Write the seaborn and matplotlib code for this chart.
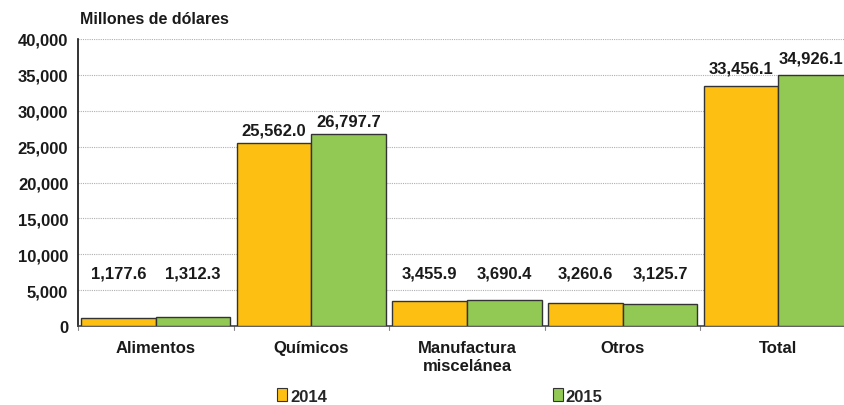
import pandas as pd
import matplotlib
matplotlib.use("Agg")
import matplotlib.pyplot as plt
import seaborn as sns

# Data
categorias = ["Alimentos", "Químicos", "Manufactura\nmiscelánea", "Otros", "Total"]
valores_2014 = [1177.6, 25562.0, 3455.9, 3260.6, 33456.1]
valores_2015 = [1312.3, 26797.7, 3690.4, 3125.7, 34926.1]
anios = ["2014", "2015"]
y_ticks = [0, 5000, 10000, 15000, 20000, 25000, 30000, 35000, 40000]

df = pd.DataFrame({
    "categoria": categorias * 2,
    "anio": [anios[0]] * len(categorias) + [anios[1]] * len(categorias),
    "valor": valores_2014 + valores_2015,
})

sns.set_style("white")
plt.rcParams['font.family'] = ['Liberation Sans', 'DejaVu Sans']
plt.rcParams['font.weight'] = 'bold'

colores = {"2014": "#FDBF11", "2015": "#92C955"}
texto = "#1a1a1a"

fig = plt.figure(figsize=(8.45, 4.06), dpi=100)
ax = fig.add_axes([78 / 845, 79 / 406, 778 / 845, 287 / 406])

sns.barplot(
    data=df, x="categoria", y="valor", hue="anio",
    palette=colores, saturation=1, width=0.96, edgecolor="#333333", linewidth=1,
    ax=ax, legend=False, zorder=3,
)

ax.set_ylim(0, 40000)
ax.set_yticks(y_ticks)
ax.set_yticklabels([f"{t:,}" for t in y_ticks], fontsize=12, fontweight="bold", color=texto)
ax.set_xlim(-0.5, len(categorias) - 0.5)
ax.set_xlabel("")
ax.set_ylabel("")
ax.tick_params(axis="x", length=0, pad=10, labelsize=12, labelcolor=texto)
ax.tick_params(axis="y", length=5, width=1, color="#222222", pad=2)
for lbl in ax.get_xticklabels():
    lbl.set_fontweight("bold")
    lbl.set_linespacing(1.25)

# category separators on the x axis
for b in range(len(categorias) + 1):
    ax.plot([b - 0.5, b - 0.5], [0, -600], color="#888888", lw=0.8, clip_on=False)

ax.yaxis.grid(True, linestyle=(0, (1, 1)), color="#b0b0b0", linewidth=0.8, zorder=0)
ax.xaxis.grid(False)
for s in ["top", "right"]:
    ax.spines[s].set_visible(False)
ax.spines["left"].set_color("#111111")
ax.spines["bottom"].set_color("#444444")
ax.spines["left"].set_linewidth(1.2)
ax.spines["bottom"].set_linewidth(1.2)

# value labels
etiquetas = []
for cont in ax.containers:
    for rect in cont:
        v = rect.get_height()
        y = max(v, 5600) + (700 if v < 30000 else 1400)
        t = ax.text(rect.get_x() + rect.get_width() / 2, y, f"{v:,.1f}",
                    ha="center", va="bottom", fontsize=12, fontweight="bold",
                    color=texto, zorder=5)
        etiquetas.append(t)

fig.text(80 / 845, 1 - 20 / 406, "Millones de dólares", fontsize=11.5,
         fontweight="bold", color=texto, va="center", ha="left")

handles = [plt.Rectangle((0, 0), 1, 1, facecolor=colores[a], edgecolor="#333333", lw=0.8) for a in anios]
fig.legend(handles, anios, loc="center", bbox_to_anchor=(440 / 845, 1 - 397 / 406),
           ncol=2, frameon=False, handlelength=0.6, handleheight=0.8,
           handletextpad=0.2, columnspacing=13.5,
           prop={"size": 12, "weight": "bold"})

# keep labels inside the figure (like the reference, last one is nudged left)
fig.canvas.draw()
r = fig.canvas.get_renderer()
fig_w = fig.bbox.width
for t in etiquetas:
    bb = t.get_window_extent(r)
    if bb.x1 > fig_w - 2:
        dx = bb.x1 - (fig_w - 2)
        x_disp, y_disp = ax.transData.transform(t.get_position())
        t.set_position(ax.transData.inverted().transform((x_disp - dx, y_disp)))

fig.savefig("out.png", dpi=100)
